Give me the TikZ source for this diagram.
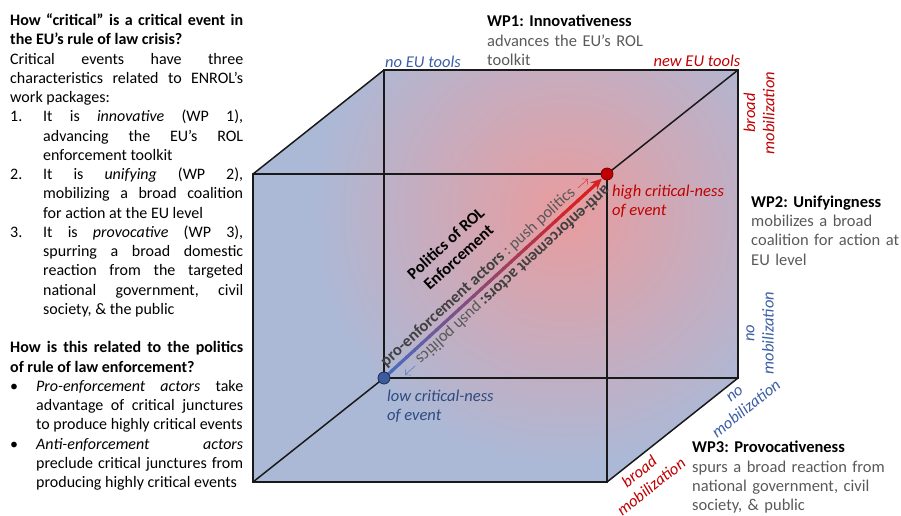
\documentclass[tikz,border=0pt]{standalone}
\usepackage{fontspec}
\setmainfont{Carlito}
\usepackage{enumitem}
\usetikzlibrary{calc, arrows.meta}

\definecolor{cubeblue}{HTML}{ABB9D7}
\definecolor{cubepink}{HTML}{E99C9E}
\definecolor{toolblue}{HTML}{3B5EA6}
\definecolor{lowblue}{HTML}{2E4A7D}
\definecolor{highred}{HTML}{C00000}
\definecolor{wpgrey}{HTML}{595959}
\definecolor{diagblue}{HTML}{4A6CC0}
\definecolor{diagred}{HTML}{D82020}

\hyphenpenalty=10000
\exhyphenpenalty=10000
\frenchspacing

\begin{document}
\begin{tikzpicture}[x=1pt, y=-1pt, >=Stealth,
    txt/.style={font=\fontsize{16.5}{19.25}\selectfont, inner sep=0pt},
    sidetxt/.style={txt, font=\fontsize{16}{19.25}\selectfont, text width=233pt, align=justify, anchor=north west},
    edge/.style={line width=1.5pt, black!90},
    lbl/.style={txt, font=\fontsize{16.5}{19.25}\selectfont\itshape, align=center}]

    \useasboundingbox (0,0) rectangle (901,515);

    % ==========================================
    % 1. LEFT-HAND TEXT
    % ==========================================
    \node[sidetxt] (critq) at (10,13.5) {%
        \textbf{How “critical” is a critical event in\linebreak the EU’s rule of law crisis?}\par
        Critical events have three\linebreak characteristics related to ENROL’s\linebreak work packages:
        \begin{enumerate}[nosep, leftmargin=33pt, labelwidth=33pt, labelsep=0pt, align=left, label=\arabic*.]
            \item It is \emph{innovative} (WP 1),\linebreak advancing the EU’s ROL\linebreak enforcement toolkit
            \item It is \emph{unifying} (WP 2),\linebreak mobilizing a broad coalition\linebreak for action at the EU level
            \item It is \emph{provocative} (WP 3),\linebreak spurring a broad domestic\linebreak reaction from the targeted\linebreak national government, civil\linebreak society, \& the public
        \end{enumerate}};

    \node[sidetxt] (relq) at (10,341.5) {%
        \textbf{How is this related to the politics\linebreak of rule of law enforcement?}
        \begin{itemize}[nosep, leftmargin=26pt, labelwidth=26pt, labelsep=0pt, align=left, label=\textbullet]
            \item \emph{Pro-enforcement actors} take\linebreak advantage of critical junctures\linebreak to produce highly critical events
            \item \emph{Anti-enforcement actors}\linebreak preclude critical junctures from\linebreak producing highly critical events
        \end{itemize}};

    % ==========================================
    % 2. CUBE (front face + shifted back face)
    % ==========================================
    \coordinate (ftl) at (253,174);
    \coordinate (ftr) at (607,174);
    \coordinate (fbr) at (607,482);
    \coordinate (fbl) at (253,482);
    \coordinate (btl) at ($(ftl)+(131,-104)$);
    \coordinate (btr) at ($(ftr)+(131,-104)$);
    \coordinate (bbr) at ($(fbr)+(131,-104)$);
    \coordinate (bbl) at ($(fbl)+(131,-104)$);

    % Shaded body, reddish towards the high corner
    \begin{scope}
        \clip (ftl) -- (btl) -- (btr) -- (bbr) -- (fbr) -- (fbl) -- cycle;
        \fill[cubeblue] (ftl) -- (btl) -- (btr) -- (bbr) -- (fbr) -- (fbl) -- cycle;
        \shade[inner color=cubepink, outer color=cubeblue] (565,212) circle (255pt);
    \end{scope}

    % Edges
    \draw[edge] (ftl) rectangle (fbr);
    \draw[edge] (btl) rectangle (bbr);
    \foreach \c in {tl, tr, br, bl} {
        \draw[edge] (f\c) -- (b\c);
    }

    % ==========================================
    % 3. DIAGONAL: LOW -> HIGH CRITICAL-NESS
    % ==========================================
    \coordinate (lo) at (bbl);
    \coordinate (hi) at (ftr);

    % Blue-to-red shaft, built from short pieces
    \foreach \i in {0,...,26} {
        \pgfmathtruncatemacro{\p}{100*\i/26}
        \draw[line width=3.2pt, diagred!\p!diagblue]
            ($(lo)!{\i/30}!(hi)$) -- ($(lo)!{(\i+1.2)/30}!(hi)$);
    }
    \draw[-{Stealth[length=11pt, width=10pt]}, line width=3.2pt, diagred]
        ($(lo)!0.9!(hi)$) -- ($(hi)!7pt!(lo)$);

    % Labels on both sides of the diagonal
    \path (lo) -- (hi)
        node[txt, sloped, above, pos=0.455, inner sep=3.5pt] (pro)
            {{\color{black!75}\bfseries pro-enforcement actors} {\color{wpgrey}: push politics}}
        node[txt, sloped, above, rotate=180, pos=0.545, inner sep=3.5pt] (anti)
            {{\color{black!75}\bfseries anti-enforcement actors:} {\color{wpgrey}push politics}};

    % Small push arrows
    \draw[-{Straight Barb[length=4pt]}, diagred, thin] (578,188) -- (588,179);
    \draw[-{Straight Barb[length=4pt]}, diagblue, thin] (415,366) -- (405,375);

    \node[txt, font=\fontsize{16.5}{19}\selectfont\bfseries, align=center, rotate=42.4] (rolpol) at (452,250)
        {Politics of ROL\\Enforcement};

    % End points
    \fill[highred, draw=highred!60!black, line width=0.8pt] (hi) circle (6pt);
    \fill[lowblue!50!diagblue, draw=lowblue!60!black, line width=0.8pt] (lo) circle (6pt);

    % ==========================================
    % 4. CORNER & AXIS LABELS
    % ==========================================
    \node[lbl, text=toolblue, anchor=base] (notools) at (423,67) {no EU tools};
    \node[lbl, text=highred, anchor=base] (newtools) at (697,66) {new EU tools};
    \node[lbl, text=highred, rotate=90] (mobtop) at (759,113) {broad\\mobilization};
    \node[lbl, text=toolblue, rotate=90] (nomobside) at (760,333) {no\\mobilization};
    \node[lbl, text=toolblue, rotate=38.4] (nomobdepth) at (741,402) {no\\mobilization};
    \node[lbl, text=highred, rotate=38.4] (mobdepth) at (645,479) {broad\\mobilization};

    \node[lbl, text=highred, align=left, anchor=north west] (highc) at (612,184.5)
        {high critical-ness\\of event};
    \node[lbl, text=lowblue, align=left, anchor=north west] (lowc) at (387,389.5)
        {low critical-ness\\of event};

    % ==========================================
    % 5. WORK PACKAGE NOTES
    % ==========================================
    \node[txt, text=wpgrey, text width=170pt, align=left, anchor=north west] (wpone) at (487,15)
        {\textcolor{black}{\textbf{WP1: Innovativeness}}\\advances the EU’s ROL\\toolkit};
    \node[txt, text=wpgrey, text width=150pt, align=left, anchor=north west] (wptwo) at (751,195.5)
        {\textcolor{black}{\textbf{WP2: Unifyingness}}\\mobilizes a broad\\coalition for action at\\EU level};
    \node[txt, text=wpgrey, text width=200pt, align=left, anchor=north west] (wpthree) at (692,441)
        {\textcolor{black}{\textbf{WP3: Provocativeness}}\\spurs a broad reaction from\\national government, civil\\society, \& public};

\end{tikzpicture}
\end{document}
